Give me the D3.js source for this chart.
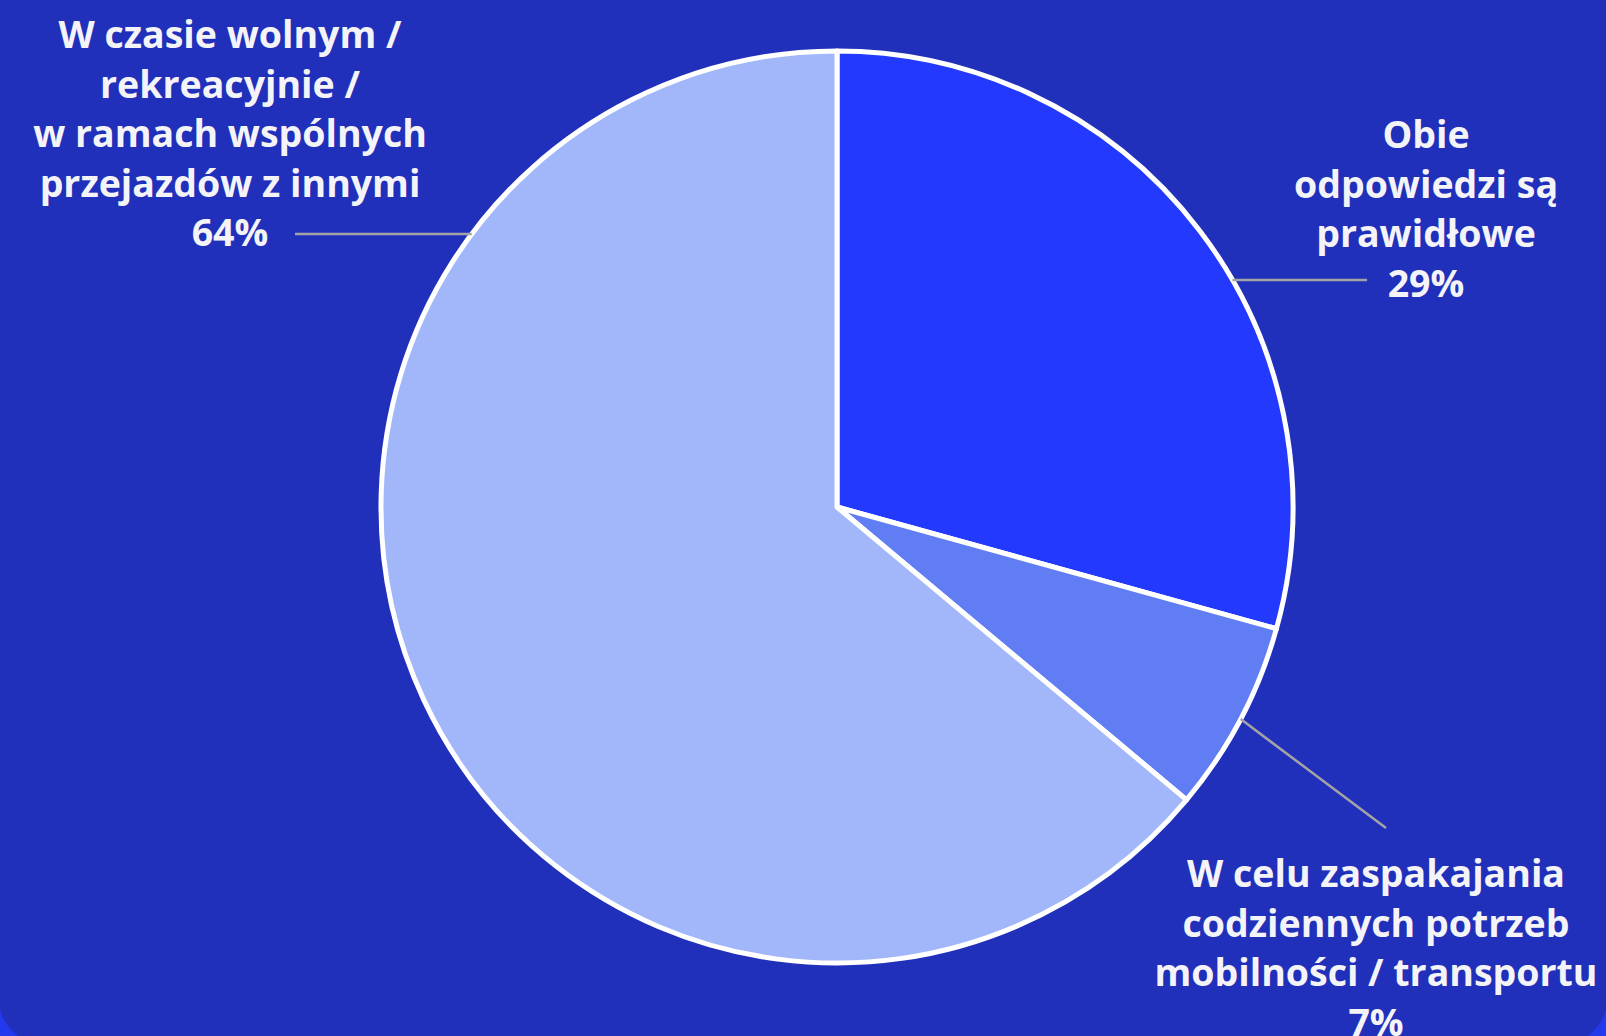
<!DOCTYPE html>
<html><head><meta charset="utf-8">
<script src="https://cdn.jsdelivr.net/npm/d3@7"></script>
<style>html,body{margin:0;padding:0;background:#2438ee;overflow:hidden}</style>
</head><body>
<svg id="c" width="1606" height="1036"></svg>
<script>
const categories = ["Obie odpowiedzi są prawidłowe", "W celu zaspakajania codziennych potrzeb mobilności / transportu", "W czasie wolnym / rekreacyjnie / w ramach wspólnych przejazdów z innymi"];
const values = [29.3, 6.8, 63.9];
const labelLines = [
  ["Obie", "odpowiedzi są", "prawidłowe", "29%"],
  ["W celu zaspakajania", "codziennych potrzeb", "mobilności / transportu", "7%"],
  ["W czasie wolnym /", "rekreacyjnie /", "w ramach wspólnych", "przejazdów z innymi", "64%"]
];
const colors = ["#2339fe", "#607df4", "#a1b7f9"];

const svg = d3.select("#c");
svg.append("rect").attr("x", -2).attr("y", -80).attr("width", 1610).attr("height", 1126)
  .attr("rx", 50).attr("fill", "#2130ba");

const cx = 837, cy = 507, r = 456;
const g = svg.append("g").attr("transform", `translate(${cx},${cy})`);
const pie = d3.pie().sort(null).value(d => d)(values);
const arc = d3.arc().innerRadius(0).outerRadius(r);
g.selectAll("path").data(pie).join("path")
  .attr("d", arc).attr("fill", (d, i) => colors[i])
  .attr("stroke", "#ffffff").attr("stroke-width", 5).attr("stroke-linejoin", "round");

const layout = [
  {lx: 1426, y0: 148, lead: [[null, 280], [1367, 280]]},
  {lx: 1376, y0: 887, lead: [[null, null], [1386, 828]]},
  {lx: 230, y0: 48, lead: [[null, 234], [295, 234]]}
];
pie.forEach((d, i) => {
  const L = layout[i];
  const end = L.lead[1];
  let sx, sy;
  if (L.lead[0][1] !== null) {
    sy = L.lead[0][1];
    const dy = sy - cy;
    const dx = Math.sqrt(r * r - dy * dy);
    sx = end[0] > cx ? cx + dx : cx - dx;
  } else {
    const a = (d.startAngle + d.endAngle) / 2;
    sx = cx + r * Math.sin(a); sy = cy - r * Math.cos(a);
  }
  svg.append("line").attr("x1", sx).attr("y1", sy).attr("x2", end[0]).attr("y2", end[1])
    .attr("stroke", "#a3a3a8").attr("stroke-width", 2.5);
  const t = svg.append("text").attr("text-anchor", "middle")
    .attr("font-family", "'Open Sans', 'Noto Sans', sans-serif").attr("font-weight", 700)
    .attr("font-size", 37.5).attr("fill", "#f4f4f8");
  labelLines[i].forEach((ln, k) => {
    t.append("tspan").attr("x", L.lx).attr("y", L.y0 + k * 49.5).text(ln);
  });
});
</script>
</body></html>
